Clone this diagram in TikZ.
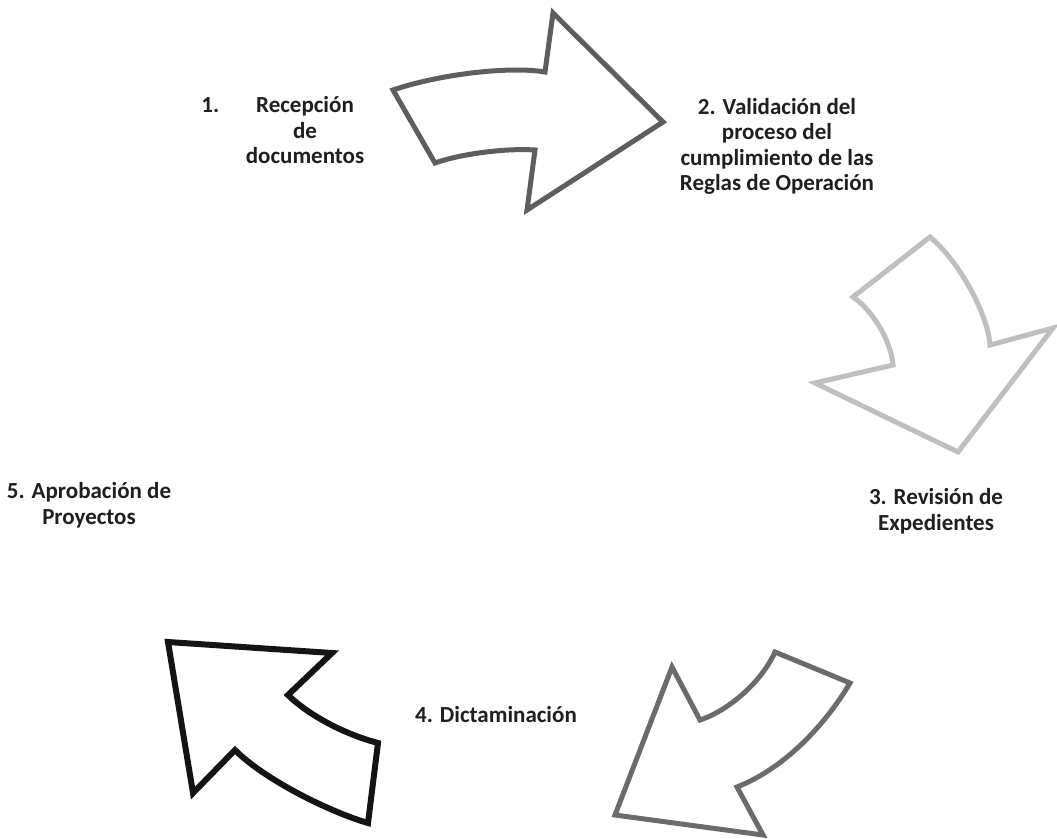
\documentclass[tikz,border=0pt]{standalone}
\usepackage{fontspec}
\setmainfont{Carlito}
\begin{document}
\begin{tikzpicture}[x=1pt,y=-1pt,
  lbl/.style={font=\fontsize{23}{25.5}\selectfont\bfseries, text=black!88, align=center, inner sep=0pt},
  blockarrow/.style={line width=5pt, line join=miter, miter limit=4, fill=white}]
\useasboundingbox (0,0) rectangle (1057,838);
\fill[white] (0,0) rectangle (1057,838);
% Arrow 1 (top)
\draw[blockarrow, draw=black!63] (393,90) .. controls (440,74) and (510,66) .. (545,72) -- (553,13) -- (663,122) -- (527,210) -- (535,150) .. controls (505,148) and (460,154) .. (435,163) -- cycle;
% Arrow 2 (right)
\draw[blockarrow, draw=black!25] (853,297) -- (930,237) .. controls (960,262) and (988,315) .. (990,345) -- (1053,328) -- (958,452) -- (815,383) -- (893,365) .. controls (891,340) and (872,310) .. cycle;
% Arrow 3 (bottom right)
\draw[blockarrow, draw=black!58] (775,652) -- (850,683) .. controls (825,725) and (785,768) .. (737,787) -- (763,835) -- (615,815) -- (672,667) -- (700,720) .. controls (725,712) and (760,685) .. cycle;
% Arrow 4 (bottom left)
\draw[blockarrow, draw=black!92, line width=6pt] (168,642) -- (332,653) -- (288,695) .. controls (305,712) and (340,733) .. (378,743) -- (368,823) .. controls (330,812) and (265,780) .. (235,750) -- (193,793) -- cycle;
% Labels
\node[lbl] (t1) at (305,130.5) {\llap{1.\hspace{37pt}}Recepción\\de\\documentos};
\node[lbl] (t2) at (777,146.5) {2. Validación del\\proceso del\\cumplimiento de las\\Reglas de Operación};
\node[lbl] (t3) at (936,511) {3. Revisión de\\Expedientes};
\node[lbl] (t4) at (496,715) {4. Dictaminación};
\node[lbl] (t5) at (89,505) {5. Aprobación de\\Proyectos};
\end{tikzpicture}
\end{document}
